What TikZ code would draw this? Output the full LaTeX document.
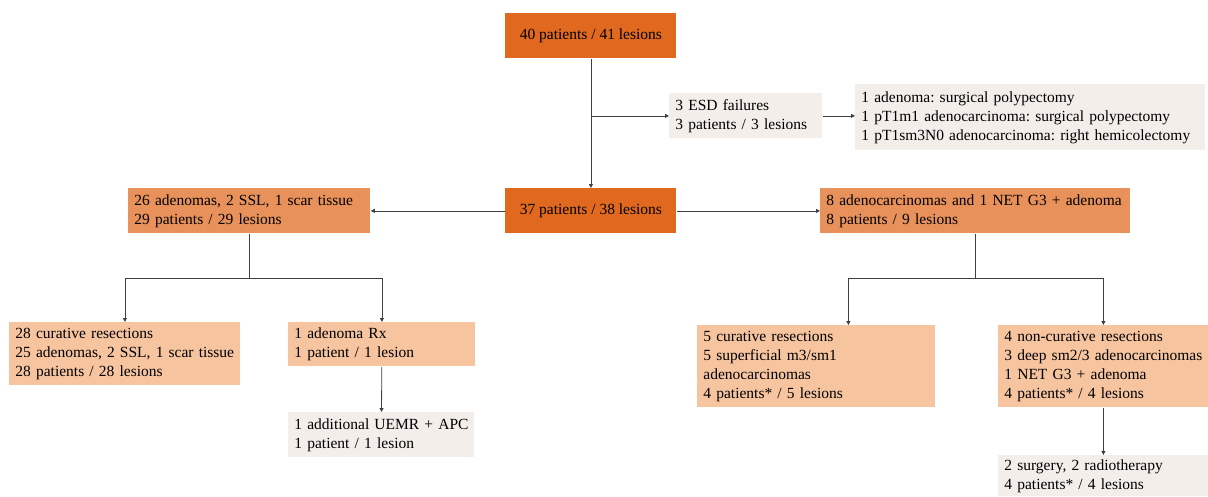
\documentclass[tikz,border=0pt]{standalone}
\usepackage{fontspec}
\setmainfont{Liberation Serif}
\usetikzlibrary{arrows.meta}
\frenchspacing
\definecolor{deeporange}{HTML}{E0691F}
\definecolor{midorange}{HTML}{E8915B}
\definecolor{paleorange}{HTML}{F7C4A0}
\definecolor{palegray}{HTML}{F3EEEA}
\tikzset{
  box/.style={anchor=north west, inner xsep=6pt, inner ysep=0pt,
    font=\fontsize{15.5}{19}\selectfont,
    execute at begin node={\pretolerance=-1\tolerance=10\hyphenpenalty=10000}},
  cbox/.style={box, align=center},
  lbox/.style={box, align=left},
  arr/.style={-{Triangle[length=4pt,width=4pt]}},
}
\begin{document}
\begin{tikzpicture}[x=1pt, y=-1pt, line width=0.8pt, draw=black!75]
      \useasboundingbox (0,0) rectangle (1208,496);
      % top of the tree
      \node[cbox, fill=deeporange, minimum width=171pt, minimum height=45pt] (all) at (505,13) {40 patients / 41 lesions};
      \node[lbox, fill=palegray, text width=141pt, minimum height=45pt] (esd) at (669,93) {3 ESD failures\\3 patients / 3 lesions};
      \node[lbox, fill=palegray, text width=338pt, minimum height=66pt] (esdout) at (855,84) {1 adenoma: surgical polypectomy\\1 pT1m1 adenocarcinoma: surgical polypectomy\\1 pT1sm3N0 adenocarcinoma: right hemicolectomy};
      \node[cbox, fill=deeporange, minimum width=171pt, minimum height=45pt] (rest) at (505,188) {37 patients / 38 lesions};

      % benign branch
      \node[lbox, fill=midorange, text width=230pt, minimum height=45pt] (benign) at (128,188) {26 adenomas, 2 SSL, 1 scar tissue\\29 patients / 29 lesions};
      \node[lbox, fill=paleorange, text width=219pt, minimum height=63pt] (bcur) at (9,322) {28 curative resections\\25 adenomas, 2 SSL, 1 scar tissue\\28 patients / 28 lesions};
      \node[lbox, fill=paleorange, text width=175pt, minimum height=44pt] (brx) at (288,322) {1 adenoma Rx\\1 patient / 1 lesion};
      \node[lbox, fill=palegray, text width=174pt, minimum height=45pt] (buemr) at (288,412) {1 additional UEMR + APC\\1 patient / 1 lesion};

      % malignant branch
      \node[lbox, fill=midorange, text width=298pt, minimum height=45pt] (malig) at (820,188) {8 adenocarcinomas and 1 NET G3 + adenoma\\8 patients / 9 lesions};
      \node[lbox, fill=paleorange, text width=226pt, minimum height=82pt] (mcur) at (697,325) {5 curative resections\\5 superficial m3/sm1\\adenocarcinomas\\4 patients* / 5 lesions};
      \node[lbox, fill=paleorange, text width=198pt, minimum height=82pt] (mnon) at (998,325) {4 non-curative resections\\3 deep sm2/3 adenocarcinomas\\1 NET G3 + adenoma\\4 patients* / 4 lesions};
      \node[lbox, fill=palegray, text width=198pt, minimum height=41pt] (msurg) at (998,455) {2 surgery, 2 radiotherapy\\4 patients* / 4 lesions};

      \coordinate (fork) at (all.south |- esd.west);
      \coordinate (bsplit) at (benign.south |- 0,278);
      \coordinate (msplit) at (malig.south |- 0,278);

      \draw[arr] (all) -- (rest);
      \draw[arr] (fork) -- (esd);
      \draw[arr] (esd.east) -- (esd.east -| esdout.west);
      \draw[arr] (rest) -- (benign);
      \draw[arr] (rest) -- (malig);
      \draw (benign) -- (bsplit);
      \draw[arr] (bsplit) -| (bcur);
      \draw[arr] (bsplit) -| (brx);
      \draw[arr] (brx) -- (buemr);
      \draw (malig) -- (msplit);
      \draw[arr] (msplit) -| ([xshift=32pt]mcur.north);
      \draw[arr] (msplit) -| (mnon);
      \draw[arr] (mnon.south -| msurg.north) -- (msurg);
    \end{tikzpicture}
\end{document}
